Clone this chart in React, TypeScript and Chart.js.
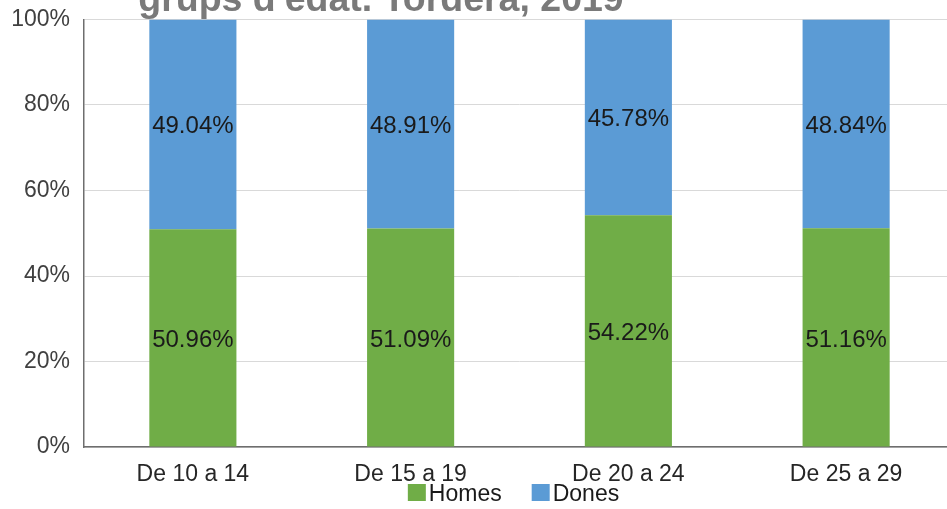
import React, { useEffect, useRef } from "react";
import { Chart, registerables } from "chart.js";

Chart.register(...registerables);

const categories = ["De 10 a 14", "De 15 a 19", "De 20 a 24", "De 25 a 29"];
const homes = [50.96, 51.09, 54.22, 51.16];
const dones = [49.04, 48.91, 45.78, 48.84];
const seriesNames = ["Homes", "Dones"];
const seriesColors = ["#70ad47", "#5b9bd5"];
const titleText = "grups d'edat. Tordera, 2019";
const yTicks = [0, 20, 40, 60, 80, 100];

const FONT = "'Liberation Sans', Arial, sans-serif";

const valueLabels = {
  id: "valueLabels",
  afterDatasetsDraw(chart: any) {
    const ctx = chart.ctx;
    ctx.save();
    ctx.font = `24px ${FONT}`;
    ctx.fillStyle = "#1a1a1a";
    ctx.textAlign = "center";
    ctx.textBaseline = "middle";
    chart.data.datasets.forEach((ds: any, i: number) => {
      const meta = chart.getDatasetMeta(i);
      meta.data.forEach((bar: any, j: number) => {
        const v = ds.data[j];
        const y = (bar.y + bar.base) / 2;
        ctx.fillText(v.toFixed(2) + "%", bar.x, y + 2.5);
      });
    });
    ctx.restore();
  },
};

const titleAndLegend = {
  id: "titleAndLegend",
  afterDraw(chart: any) {
    const ctx = chart.ctx;
    const area = chart.chartArea;
    ctx.save();
    // clipped title (second line of a longer title)
    ctx.font = `bold 37.5px ${FONT}`;
    ctx.fillStyle = "#7a7a7a";
    ctx.textAlign = "center";
    ctx.textBaseline = "alphabetic";
    ctx.fillText(titleText, area.left + 297, 11);

    // legend
    ctx.font = `23px ${FONT}`;
    ctx.textBaseline = "alphabetic";
    ctx.textAlign = "left";
    const boxW = 18;
    const boxH = 17;
    const gapBox = 3;
    const gapItem = 30;
    const widths = chart.data.datasets.map((ds: any) => boxW + gapBox + ctx.measureText(ds.label).width);
    const total = widths.reduce((a: number, b: number) => a + b, 0) + gapItem * (widths.length - 1);
    let x = (area.left + area.right) / 2 - 6 - total / 2;
    const baseY = chart.height - 8;
    chart.data.datasets.forEach((ds: any, i: number) => {
      ctx.fillStyle = ds.backgroundColor;
      ctx.fillRect(x, baseY - boxH, boxW, boxH);
      ctx.fillStyle = "#1a1a1a";
      ctx.fillText(ds.label, x + boxW + gapBox, baseY);
      x += widths[i] + gapItem;
    });
    ctx.restore();
  },
};

export default function App() {
  const ref = useRef<HTMLCanvasElement | null>(null);

  useEffect(() => {
    if (!ref.current) return;
    const chart = new Chart(ref.current, {
      type: "bar",
      data: {
        labels: categories,
        datasets: [
          { label: seriesNames[0], data: homes, backgroundColor: seriesColors[0] },
          { label: seriesNames[1], data: dones, backgroundColor: seriesColors[1] },
        ],
      },
      options: {
        responsive: false,
        animation: false,
        layout: { padding: { top: 19.5, right: 5, left: 0, bottom: 0 } },
        datasets: {
          bar: { categoryPercentage: 1, barPercentage: 0.4 },
        },
        plugins: {
          legend: { display: false },
          title: { display: false },
          tooltip: { enabled: false },
        },
        scales: {
          x: {
            stacked: true,
            grid: { display: false, drawTicks: false },
            border: { display: true, color: "#6e6e6e", width: 1.5 },
            ticks: {
              color: "#262626",
              font: { family: FONT, size: 23 },
              padding: 14,
              maxRotation: 0,
            },
            afterFit(scale: any) {
              scale.height = 62;
              scale.paddingLeft = 0;
              scale.paddingRight = 0;
            },
          },
          y: {
            stacked: true,
            min: 0,
            max: 100,
            afterBuildTicks(scale: any) {
              scale.ticks = yTicks.map((v) => ({ value: v }));
            },
            grid: { color: "#d9d9d9", drawTicks: false, lineWidth: 1 },
            border: { display: true, color: "#6e6e6e", width: 1.5 },
            ticks: {
              color: "#404040",
              font: { family: FONT, size: 23 },
              padding: 14,
              callback: (v: any) => v + "%",
            },
            afterFit(scale: any) {
              scale.width = 84;
              scale.paddingTop = 0;
              scale.paddingBottom = 0;
            },
          },
        },
      },
      plugins: [valueLabels, titleAndLegend],
    });
    return () => chart.destroy();
  }, []);

  return (
    <div
      style={{
        position: "fixed",
        left: 0,
        top: 0,
        width: 947,
        height: 509,
        overflow: "hidden",
        background: "#ffffff",
      }}
    >
      <canvas ref={ref} width={960} height={509} style={{ display: "block" }} />
    </div>
  );
}
